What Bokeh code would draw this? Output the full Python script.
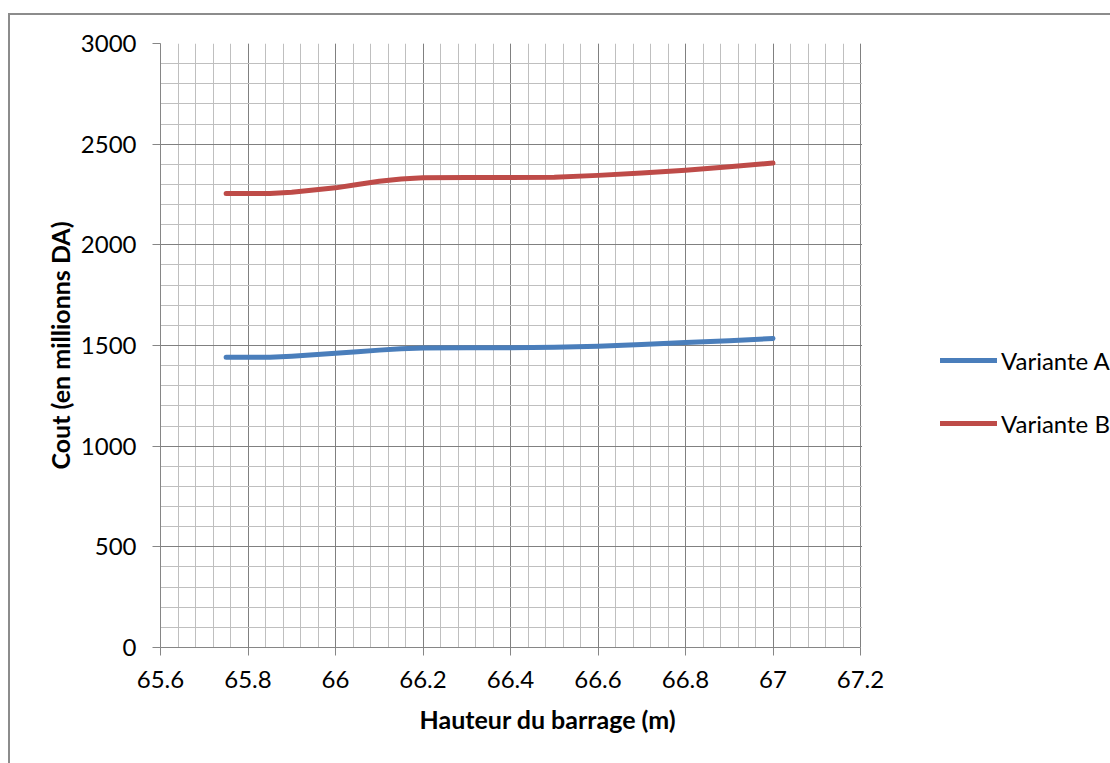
from bokeh.plotting import figure
from bokeh.models import (Range1d, SingleIntervalTicker, CustomJSTickFormatter, Legend, LegendItem,
                          Title, BoxAnnotation)
from bokeh.embed import file_html
from bokeh.resources import INLINE

# ---- data ----
hauteur = [65.75, 65.8, 65.85, 65.9, 66.0, 66.05, 66.1, 66.15, 66.2, 66.3, 66.4, 66.5, 66.6, 66.7, 66.8, 66.9, 67.0]
variante_a = [1442, 1442, 1442, 1447, 1461, 1469, 1477, 1484, 1488, 1489, 1489, 1491, 1496, 1505, 1515, 1524, 1535]
variante_b = [2255, 2255, 2255, 2261, 2283, 2300, 2316, 2327, 2333, 2334, 2334, 2336, 2345, 2357, 2371, 2388, 2406]
series_names = ["Variante A", "Variante B"]
series_colors = ["#4a7ebb", "#be4b48"]
x_title = "Hauteur du barrage (m)"
y_title = "Cout (en millionns DA)"
x_min, x_max = 65.6, 67.2
y_min, y_max = 0, 3000

FONT = "Lato"

# plot area is 700 px wide for the axis range; the frame is extended to the right edge
# of the canvas so that the legend (outside the axis range) is not clipped.
PLOT_W = 700
EXTRA_W = 250
x_frame_end = x_max + EXTRA_W * (x_max - x_min) / PLOT_W

p = figure(width=1110, height=763, output_backend="svg", toolbar_location=None,
           x_range=Range1d(x_min, x_frame_end), y_range=Range1d(y_min, y_max),
           min_border_left=160, min_border_right=0, min_border_top=43, min_border_bottom=116)
p.background_fill_color = "white"
p.border_fill_color = None
p.outline_line_color = None
# outer chart frame (left and top edges visible, the rest is cropped in the reference)
p.styles = {
    "background": ("linear-gradient(#8c8c8c, #8c8c8c) 8px 13px / 2px 100% no-repeat, "
                   "linear-gradient(#8c8c8c, #8c8c8c) 8px 13px / 100% 2px no-repeat, white"),
}

# tickers
p.xaxis.ticker = SingleIntervalTicker(interval=0.2, num_minor_ticks=5)
p.yaxis.ticker = SingleIntervalTicker(interval=500, num_minor_ticks=5)
p.xaxis.formatter = CustomJSTickFormatter(code="return String(parseFloat(tick.toFixed(1)));")
p.xaxis.bounds = (x_min, x_max)

for ax in (p.xaxis[0], p.yaxis[0]):
    ax.axis_line_color = "#868686"
    ax.axis_line_width = 1
    ax.major_tick_line_color = "#868686"
    ax.major_tick_out = 8
    ax.major_tick_in = 0
    ax.minor_tick_line_color = None
    ax.major_label_text_font = FONT
    ax.major_label_text_font_size = "24px"
    ax.major_label_text_color = "#000000"
    ax.axis_label_text_font = FONT
    ax.axis_label_text_font_size = "25px"
    ax.axis_label_text_font_style = "bold"
    ax.axis_label_text_color = "#000000"

p.yaxis.major_label_standoff = 16
p.xaxis.major_label_standoff = 15
p.yaxis.axis_label = y_title
p.yaxis.axis_label_standoff = 3

# grid
for g in (p.xgrid[0], p.ygrid[0]):
    g.grid_line_color = "#808080"
    g.grid_line_width = 1
    g.minor_grid_line_color = "#bfbfbf"
    g.minor_grid_line_width = 1
    g.level = "underlay"
p.xgrid.bounds = (x_min, x_max)

# blank out the horizontal grid lines to the right of the plot area
p.add_layout(BoxAnnotation(left=x_max + 1.5 * (x_max - x_min) / PLOT_W, fill_color="white", fill_alpha=1,
                           line_color=None, level="underlay"))

# series
r_a = p.line(hauteur, variante_a, line_color=series_colors[0], line_width=5, line_cap="round", line_join="round")
r_b = p.line(hauteur, variante_b, line_color=series_colors[1], line_width=5, line_cap="round", line_join="round")

legend = Legend(items=[LegendItem(label=series_names[0], renderers=[r_a]),
                       LegendItem(label=series_names[1], renderers=[r_b])],
                location=(780, 209), orientation="vertical",
                glyph_width=57, glyph_height=30, label_height=30, spacing=33,
                padding=0, margin=0, label_standoff=4,
                label_text_font=FONT, label_text_font_size="24px", label_text_color="#000000",
                border_line_color=None, background_fill_alpha=0)
p.add_layout(legend, "center")

# x axis title, placed below the axis
p.add_layout(Title(text=x_title, align="left", offset=259, standoff=23,
                   text_font=FONT, text_font_size="25px", text_font_style="bold",
                   text_color="#000000"), "below")

open("out.html", "w").write(file_html(p, INLINE))
